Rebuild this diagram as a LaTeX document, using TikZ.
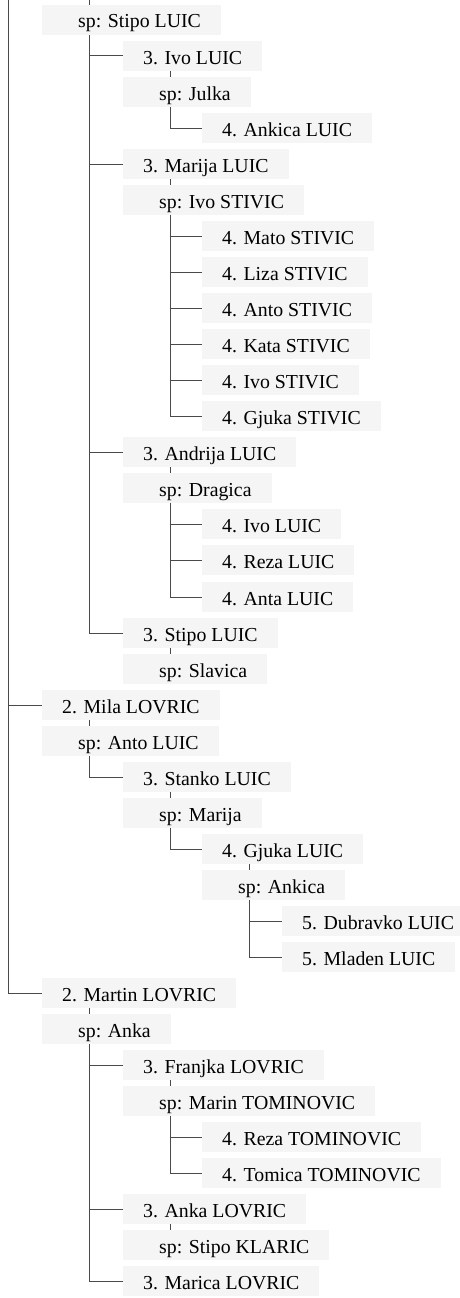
\documentclass[tikz,border=0pt]{standalone}
\usepackage{fontspec}
\setmainfont{Liberation Serif}
\usetikzlibrary{positioning}
\definecolor{boxgray}{HTML}{F5F5F5}
\definecolor{linegray}{HTML}{4A4A4A}
\tikzset{
  person/.style={anchor=west, fill=boxgray, inner xsep=20pt, inner ysep=0pt,
    minimum height=30pt, text height=18pt, text depth=2pt,
    font=\fontsize{19.8}{20}\selectfont},
  spouse/.style={person, execute at begin node={\hspace*{16pt}}},
  link/.style={draw=linegray, line width=1pt}
}

\begin{document}
\begin{tikzpicture}[x=1pt,y=-1pt]
            \useasboundingbox (0,0) rectangle (460,1298);
            % generation 2 and 3
            \node[spouse] (sStipo) at (42,20) {sp: Stipo LUIC};
            \node[person] (ivoLuic) at (123,56) {3. Ivo LUIC};
            \node[spouse] (sJulka) at (123,92) {sp: Julka};
            \node[person] (ankicaLuic) at (202,128) {4. Ankica LUIC};
            \node[person] (marijaLuic) at (123,164) {3. Marija LUIC};
            \node[spouse] (sIvoStivic) at (123,200) {sp: Ivo STIVIC};
            \node[person] (mato) at (202,236) {4. Mato STIVIC};
            \node[person] (liza) at (202,272) {4. Liza STIVIC};
            \node[person] (anto) at (202,308) {4. Anto STIVIC};
            \node[person] (kata) at (202,344) {4. Kata STIVIC};
            \node[person] (ivoStivic) at (202,380) {4. Ivo STIVIC};
            \node[person] (gjukaStivic) at (202,416) {4. Gjuka STIVIC};
            \node[person] (andrija) at (123,452) {3. Andrija LUIC};
            \node[spouse] (sDragica) at (123,488) {sp: Dragica};
            \node[person] (ivoLuicD) at (202,524) {4. Ivo LUIC};
            \node[person] (rezaLuic) at (202,560) {4. Reza LUIC};
            \node[person] (anta) at (202,597) {4. Anta LUIC};
            \node[person] (stipoLuic) at (123,633) {3. Stipo LUIC};
            \node[spouse] (sSlavica) at (123,669) {sp: Slavica};
            % Mila
            \node[person] (mila) at (42,705) {2. Mila LOVRIC};
            \node[spouse] (sAntoLuic) at (42,741) {sp: Anto LUIC};
            \node[person] (stanko) at (123,777) {3. Stanko LUIC};
            \node[spouse] (sMarija) at (123,813) {sp: Marija};
            \node[person] (gjukaLuic) at (202,849) {4. Gjuka LUIC};
            \node[spouse] (sAnkica) at (202,885) {sp: Ankica};
            \node[person] (dubravko) at (282,921) {5. Dubravko LUIC};
            \node[person] (mladen) at (282,957) {5. Mladen LUIC};
            % Martin
            \node[person] (martin) at (42,993) {2. Martin LOVRIC};
            \node[spouse] (sAnka) at (42,1029) {sp: Anka};
            \node[person] (franjka) at (123,1065) {3. Franjka LOVRIC};
            \node[spouse] (sMarin) at (123,1101) {sp: Marin TOMINOVIC};
            \node[person] (rezaTom) at (202,1137) {4. Reza TOMINOVIC};
            \node[person] (tomica) at (202,1173) {4. Tomica TOMINOVIC};
            \node[person] (ankaLov) at (123,1209) {3. Anka LOVRIC};
            \node[spouse] (sKlaric) at (123,1245) {sp: Stipo KLARIC};
            \node[person] (marica) at (123,1281) {3. Marica LOVRIC};

            % root line and the tick coming from above
            \coordinate (root) at (8,0);
            \coordinate (upTick) at (89,0);
            \draw [link] (root) |- (mila.west);
            \draw [link] (root) |- (martin.west);
            \draw [link] (upTick) -- (upTick |- sStipo.north);

            % person to spouse ticks
            \draw [link] ([xshift=47pt]ivoLuic.south west) -- ([xshift=47pt]sJulka.north west);
            \draw [link] ([xshift=47pt]marijaLuic.south west) -- ([xshift=47pt]sIvoStivic.north west);
            \draw [link] ([xshift=47pt]andrija.south west) -- ([xshift=47pt]sDragica.north west);
            \draw [link] ([xshift=47pt]stipoLuic.south west) -- ([xshift=47pt]sSlavica.north west);
            \draw [link] ([xshift=47pt]mila.south west) -- ([xshift=47pt]sAntoLuic.north west);
            \draw [link] ([xshift=47pt]stanko.south west) -- ([xshift=47pt]sMarija.north west);
            \draw [link] ([xshift=47pt]gjukaLuic.south west) -- ([xshift=47pt]sAnkica.north west);
            \draw [link] ([xshift=47pt]martin.south west) -- ([xshift=47pt]sAnka.north west);
            \draw [link] ([xshift=47pt]franjka.south west) -- ([xshift=47pt]sMarin.north west);
            \draw [link] ([xshift=47pt]ankaLov.south west) -- ([xshift=47pt]sKlaric.north west);

            % children
            \draw [link] ([xshift=47pt]sStipo.south west) |- (ivoLuic.west);
            \draw [link] ([xshift=47pt]sStipo.south west) |- (marijaLuic.west);
            \draw [link] ([xshift=47pt]sStipo.south west) |- (andrija.west);
            \draw [link] ([xshift=47pt]sStipo.south west) |- (stipoLuic.west);
            \draw [link] ([xshift=47pt]sJulka.south west) |- (ankicaLuic.west);
            \draw [link] ([xshift=47pt]sIvoStivic.south west) |- (mato.west);
            \draw [link] ([xshift=47pt]sIvoStivic.south west) |- (liza.west);
            \draw [link] ([xshift=47pt]sIvoStivic.south west) |- (anto.west);
            \draw [link] ([xshift=47pt]sIvoStivic.south west) |- (kata.west);
            \draw [link] ([xshift=47pt]sIvoStivic.south west) |- (ivoStivic.west);
            \draw [link] ([xshift=47pt]sIvoStivic.south west) |- (gjukaStivic.west);
            \draw [link] ([xshift=47pt]sDragica.south west) |- (ivoLuicD.west);
            \draw [link] ([xshift=47pt]sDragica.south west) |- (rezaLuic.west);
            \draw [link] ([xshift=47pt]sDragica.south west) |- (anta.west);
            \draw [link] ([xshift=47pt]sAntoLuic.south west) |- (stanko.west);
            \draw [link] ([xshift=47pt]sMarija.south west) |- (gjukaLuic.west);
            \draw [link] ([xshift=47pt]sAnkica.south west) |- (dubravko.west);
            \draw [link] ([xshift=47pt]sAnkica.south west) |- (mladen.west);
            \draw [link] ([xshift=47pt]sAnka.south west) |- (franjka.west);
            \draw [link] ([xshift=47pt]sAnka.south west) |- (ankaLov.west);
            \draw [link] ([xshift=47pt]sAnka.south west) |- (marica.west);
            \draw [link] ([xshift=47pt]sMarin.south west) |- (rezaTom.west);
            \draw [link] ([xshift=47pt]sMarin.south west) |- (tomica.west);
\end{tikzpicture}
\end{document}
